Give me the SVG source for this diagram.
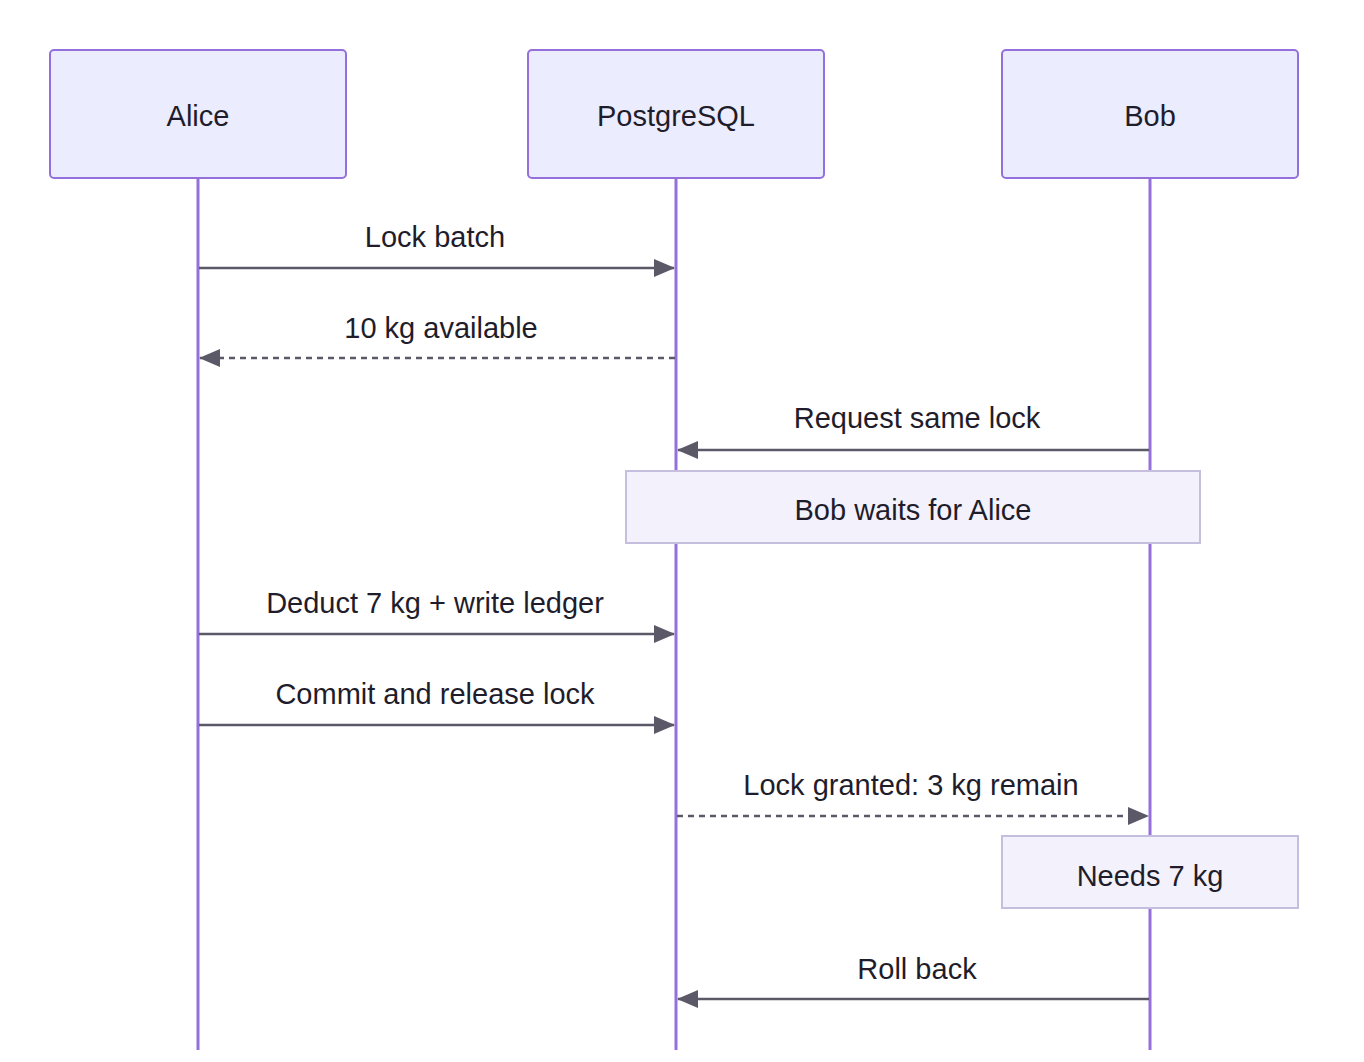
<svg xmlns="http://www.w3.org/2000/svg" width="1364" height="1062" viewBox="0 0 1364 1062">
<style>
.actor{fill:#ECECFF;stroke:#9370DB;stroke-width:2}
.life{stroke:#9370DB;stroke-width:3}
.msg{stroke:#5b5868;stroke-width:2.5;fill:none}
.dash{stroke-dasharray:6,5}
.note{fill:#F3F1FC;stroke:#C5BEDF;stroke-width:2}
text{font-family:"Liberation Sans",Arial,sans-serif;font-size:29px;fill:#1f1d2b;text-anchor:middle}
</style>
<defs>
<marker id="ah" markerWidth="22" markerHeight="20" refX="20" refY="10" orient="auto" markerUnits="userSpaceOnUse">
<path d="M0,1 L21,10 L0,19 Z" fill="#5b5868"/>
</marker>
</defs>
<rect width="1364" height="1062" fill="#fff"/>
<g id="lifelines">
<line class="life" x1="198" y1="178" x2="198" y2="1050"/>
<line class="life" x1="676" y1="178" x2="676" y2="1050"/>
<line class="life" x1="1150" y1="178" x2="1150" y2="1050"/>
</g>
<g id="alice"><rect class="actor" x="50" y="50" width="296" height="128" rx="4"/><text x="198" y="126">Alice</text></g>
<g id="postgres"><rect class="actor" x="528" y="50" width="296" height="128" rx="4"/><text x="676" y="126">PostgreSQL</text></g>
<g id="bob"><rect class="actor" x="1002" y="50" width="296" height="128" rx="4"/><text x="1150" y="126">Bob</text></g>
<g id="connectors">
<line class="msg" x1="199" y1="268" x2="674" y2="268" marker-end="url(#ah)"/>
<text x="435" y="247">Lock batch</text>
<line class="msg dash" x1="675" y1="358" x2="200" y2="358" marker-end="url(#ah)"/>
<text x="441" y="338">10 kg available</text>
<line class="msg" x1="1149" y1="450" x2="678" y2="450" marker-end="url(#ah)"/>
<text x="917" y="428">Request same lock</text>
<line class="msg" x1="199" y1="634" x2="674" y2="634" marker-end="url(#ah)"/>
<text x="435" y="613">Deduct 7 kg + write ledger</text>
<line class="msg" x1="199" y1="725" x2="674" y2="725" marker-end="url(#ah)"/>
<text x="435" y="704">Commit and release lock</text>
<line class="msg dash" x1="677" y1="816" x2="1148" y2="816" marker-end="url(#ah)"/>
<text x="911" y="795">Lock granted: 3 kg remain</text>
<line class="msg" x1="1149" y1="999" x2="678" y2="999" marker-end="url(#ah)"/>
<text x="917" y="979">Roll back</text>
</g>
<g id="note1"><rect class="note" x="626" y="471" width="574" height="72"/><text x="913" y="520">Bob waits for Alice</text></g>
<g id="note2"><rect class="note" x="1002" y="836" width="296" height="72"/><text x="1150" y="886">Needs 7 kg</text></g>
</svg>
